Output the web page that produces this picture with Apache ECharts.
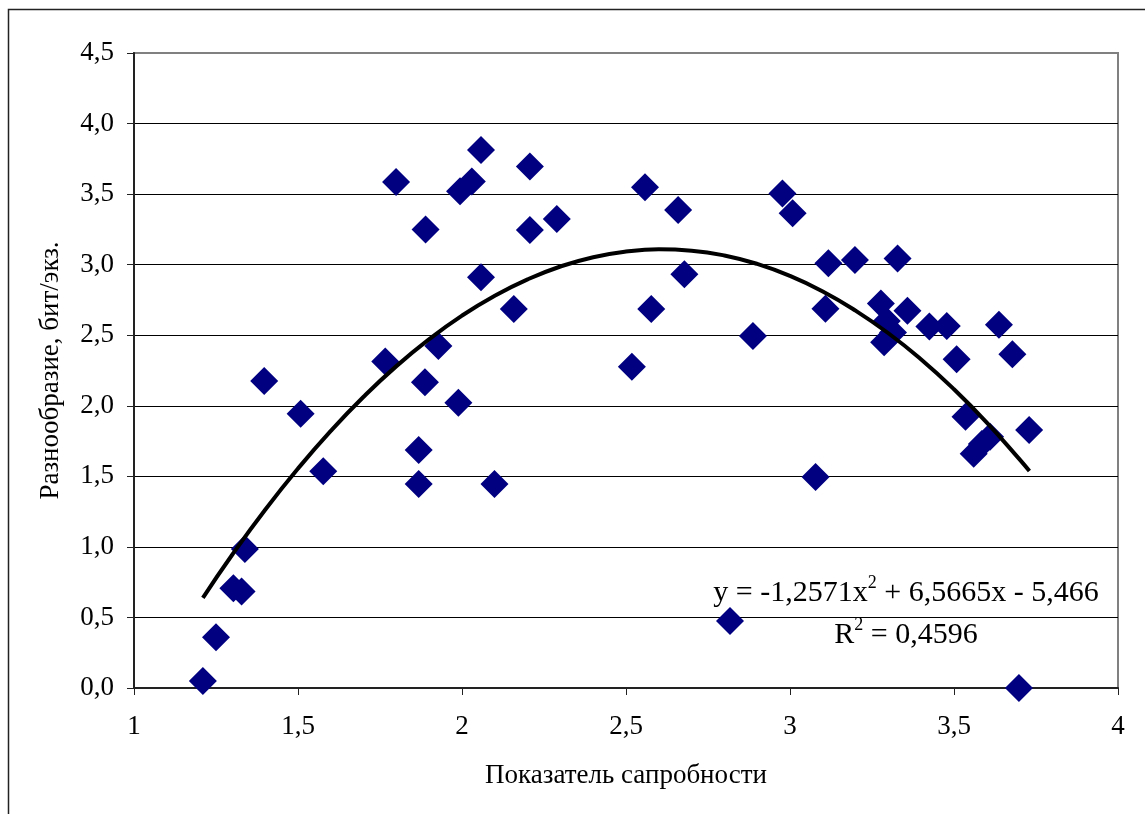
<!DOCTYPE html>
<html>
<head>
<meta charset="utf-8">
<script src="https://cdn.jsdelivr.net/npm/echarts@6/dist/echarts.min.js"></script>
<style>html,body{margin:0;padding:0;background:#fff}#c{width:1145px;height:814px}</style>
</head>
<body>
<div id="c"></div>
<script>
// Показатель сапробности (x) and Разнообразие (y)
var saprobity = [1.21,1.25,1.303,1.328,1.338,1.397,1.508,1.577,1.766,1.799,1.889,1.887,1.868,1.868,1.928,1.989,2.058,2.099,1.994,2.03,2.058,2.207,2.207,2.289,2.158,2.518,2.558,2.577,2.659,2.678,2.887,3.078,2.817,2.977,3.008,3.117,3.108,3.198,3.328,3.277,3.295,3.314,3.287,3.358,3.425,3.478,3.508,3.637,3.678,3.535,3.729,3.56,3.585,3.61,3.698];
var diversity = [0.05,0.36,0.707,0.683,0.985,2.176,1.944,1.536,2.313,3.586,3.25,2.167,1.687,1.446,2.424,2.022,2.91,1.446,3.52,3.59,3.813,3.695,3.246,3.324,2.686,2.277,3.549,2.686,3.388,2.932,2.495,1.495,0.475,3.505,3.364,3.01,2.688,3.033,3.043,2.725,2.60,2.52,2.45,2.674,2.561,2.566,2.329,2.575,2.365,1.923,1.829,1.66,1.73,1.78,0.0];
// Polynomial trend line (as drawn), x and y samples
var trendX = [1.21,1.3,1.4,1.5,1.6,1.7,1.8,1.9,2.0,2.1,2.2,2.3,2.4,2.5,2.6,2.7,2.8,2.9,3.0,3.1,3.2,3.3,3.4,3.5,3.6,3.7,3.73];
var trendY = [0.639,0.946,1.263,1.555,1.822,2.064,2.281,2.472,2.639,2.780,2.896,2.987,3.053,3.093,3.109,3.099,3.065,3.005,2.920,2.810,2.674,2.514,2.328,2.117,1.881,1.620,1.537];
var xTicks = ['1','1,5','2','2,5','3','3,5','4'];
var xTitle = 'Показатель сапробности';
var yTitle = 'Разнообразие, бит/экз.';
var eqCoef = ['-1,2571', '6,5665', '5,466'];
var r2 = '0,4596';

var pts = saprobity.map(function(x,i){return [x, diversity[i]];});
var trend = trendX.map(function(x,i){return [x, trendY[i]];});
var font = 'Liberation Serif';
var gridColors = ['#000','#000','#000','#000','#000','#000','#000','#000','#000','#808080'];

var chart = echarts.init(document.getElementById('c'), null, {renderer:'canvas'});
chart.setOption({
  animation:false,
  backgroundColor:'#fff',
  grid:{left:134, top:53, right:27, bottom:126, show:true, borderColor:'#808080', borderWidth:2, backgroundColor:'transparent'},
  xAxis:{
    type:'value', min:1, max:4, interval:0.5,
    name:xTitle, nameLocation:'middle', nameGap:74,
    nameTextStyle:{fontFamily:font, fontSize:27, color:'#000'},
    axisLine:{show:true, onZero:false, lineStyle:{color:'#222', width:2}},
    axisTick:{show:true, inside:false, length:7, lineStyle:{color:'#222', width:1}},
    axisLabel:{fontFamily:font, fontSize:27, color:'#000', margin:25,
      formatter:function(v){ var i=Math.round((v-1)/0.5); return xTicks[i]; }},
    splitLine:{show:false}
  },
  yAxis:{
    type:'value', min:0, max:4.5, interval:0.5,
    name:yTitle, nameLocation:'middle', nameGap:70, nameRotate:90,
    nameTextStyle:{fontFamily:font, fontSize:27, color:'#000'},
    axisLine:{show:true, lineStyle:{color:'#222', width:2}},
    axisTick:{show:true, inside:false, length:7, lineStyle:{color:'#222', width:1}},
    axisLabel:{fontFamily:font, fontSize:27, color:'#000', margin:20,
      formatter:function(v){ return v.toFixed(1).replace('.', ','); }},
    splitLine:{show:true, lineStyle:{color:gridColors, width:1}}
  },
  series:[
    {type:'scatter', data:pts, symbol:'diamond', symbolSize:28, itemStyle:{color:'#000080', opacity:1}, z:2},
    {type:'line', data:trend, smooth:true, showSymbol:false, symbol:'none', lineStyle:{color:'#000', width:4}, z:3}
  ],
  graphic:[
    {type:'rect', shape:{x:8.5, y:9.5, width:1300, height:1000}, style:{fill:null, stroke:'#222', lineWidth:1.5}, silent:true},
    {type:'text', x:906, y:591, style:{
      text:'{n|y = ' + eqCoef[0] + 'x}{s|2}{n| + ' + eqCoef[1] + 'x - ' + eqCoef[2] + '}',
      align:'center', verticalAlign:'middle',
      rich:{n:{fontFamily:font, fontSize:30, fill:'#000', verticalAlign:'bottom', lineHeight:34},
            s:{fontFamily:font, fontSize:18, fill:'#000', verticalAlign:'top', lineHeight:34}}
    }, z:10},
    {type:'text', x:906, y:633, style:{
      text:'{n|R}{s|2}{n| = ' + r2 + '}',
      align:'center', verticalAlign:'middle',
      rich:{n:{fontFamily:font, fontSize:30, fill:'#000', verticalAlign:'bottom', lineHeight:34},
            s:{fontFamily:font, fontSize:18, fill:'#000', verticalAlign:'top', lineHeight:34}}
    }, z:10}
  ]
});
</script>
</body>
</html>
